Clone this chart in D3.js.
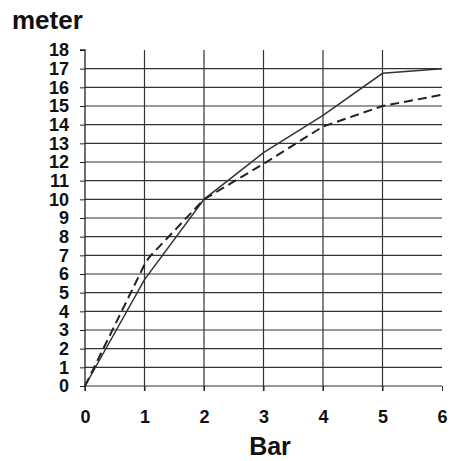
<!DOCTYPE html>
<html><head><meta charset="utf-8">
<script src="https://cdn.jsdelivr.net/npm/d3@7"></script>
<style>html,body{margin:0;padding:0;background:#fff}svg{display:block}text{font-family:"Liberation Sans",Arial,sans-serif;font-weight:bold;fill:#111}</style>
</head><body><svg id="c" width="451" height="461"></svg>
<script>
const xTicks = [0,1,2,3,4,5,6];
const yTicks = [0,1,2,3,4,5,6,7,8,9,10,11,12,13,14,15,16,17,18];
const solidX = [0,1,2,3,4,5,6];
const solidY = [0,5.7,10,12.5,14.5,16.75,17];
const dashedX = [0,1,1.08,2,3,4,5,6];
const dashedY = [0,6.5,6.9,10,11.9,13.9,15,15.6];

const svg = d3.select("#c");
const x = d3.scaleLinear().domain([0,6]).range([85,442]);
const y = d3.scaleLinear().domain([0,18]).range([386,50]);

// horizontal grid
svg.append("g").selectAll("line").data(yTicks.filter(d=>d<18)).join("line")
  .attr("x1",x(0)).attr("x2",x(6)).attr("y1",d=>y(d)).attr("y2",d=>y(d))
  .attr("stroke","#333").attr("stroke-width",1.2);
// vertical grid
svg.append("g").selectAll("line").data(xTicks.filter(d=>d>0&&d<6)).join("line")
  .attr("x1",d=>x(d)).attr("x2",d=>x(d)).attr("y1",y(18)).attr("y2",y(0)+5)
  .attr("stroke","#333").attr("stroke-width",1.2);
// y axis
const ya = svg.append("g").attr("transform",`translate(${x(0)},0)`)
  .call(d3.axisLeft(y).tickValues(yTicks).tickSize(5).tickPadding(11).tickFormat(d3.format("d")));
ya.select(".domain").attr("stroke","#222").attr("stroke-width",1.3).attr("d",`M-5,${y(18)}H0V${y(0)+5}`);
ya.selectAll(".tick line").attr("stroke","#222");
ya.selectAll(".tick text").style("font-size","18px").style("font-family","Liberation Sans, Arial, sans-serif").style("font-weight","bold").attr("fill","#111");
// x axis ticks/labels
const xa = svg.append("g").attr("transform",`translate(0,${y(0)})`)
  .call(d3.axisBottom(x).tickValues(xTicks).tickSize(5).tickPadding(19).tickFormat(d3.format("d")));
xa.select(".domain").remove();
xa.selectAll(".tick line").attr("stroke","#222");
xa.selectAll(".tick text").style("font-size","18px").style("font-family","Liberation Sans, Arial, sans-serif").style("font-weight","bold").attr("fill","#111");

const line = d3.line().x(d=>x(d[0])).y(d=>y(d[1]));
svg.append("path").datum(solidX.map((v,i)=>[v,solidY[i]])).attr("d",line)
  .attr("fill","none").attr("stroke","#333").attr("stroke-width",1.5);
svg.append("path").datum(dashedX.map((v,i)=>[v,dashedY[i]])).attr("d",line)
  .attr("fill","none").attr("stroke","#222").attr("stroke-width",2).attr("stroke-dasharray","9,5");

svg.append("text").attr("x",12).attr("y",29).style("font-size","26px").text("meter");
svg.append("text").attr("x",270).attr("y",455).attr("text-anchor","middle").style("font-size","25px").text("Bar");
</script></body></html>
